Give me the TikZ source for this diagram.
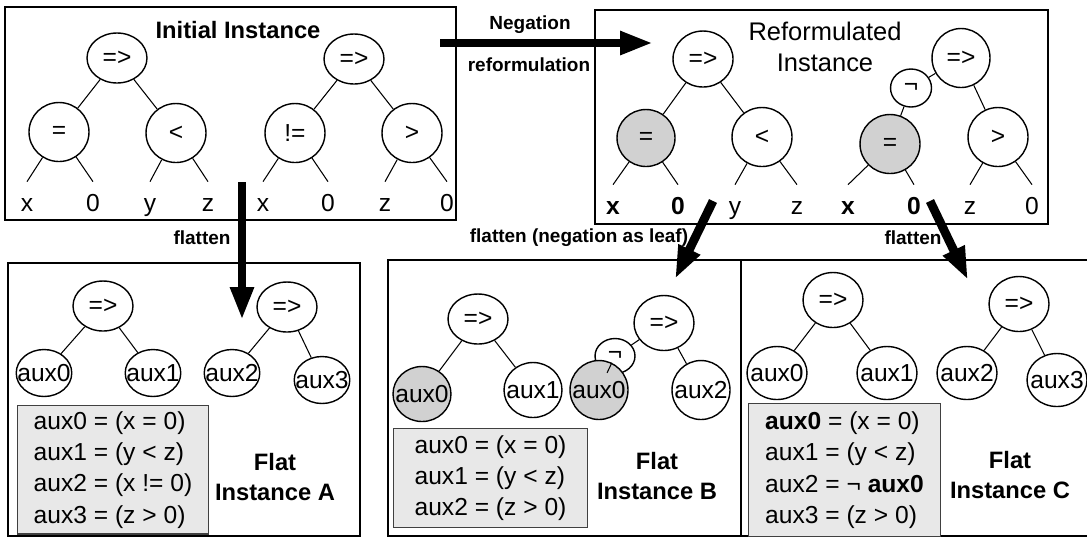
\documentclass[tikz,border=0pt]{standalone}
\usepackage{fontspec}
\setmainfont{Liberation Sans}
\usetikzlibrary{shapes.geometric,arrows.meta}
\definecolor{shade}{gray}{0.82}
\definecolor{defsfill}{gray}{0.91}
\definecolor{defsline}{gray}{0.25}
\begin{document}
\begin{tikzpicture}[x=0.02cm, y=-0.02cm,
    every node/.style={font=\fontsize{14}{17.5}\selectfont},
    op/.style={shape=ellipse, draw, line width=0.8pt, inner ysep=0pt, inner xsep=-4pt,
               minimum width=1.2cm, minimum height=1.18cm},
    root/.style={op, minimum height=1.0cm},
    aux/.style={op, minimum width=1.16cm, minimum height=1.02cm},
    notn/.style={op, minimum width=0.82cm, minimum height=0.76cm},
    hi/.style={fill=shade},
    leaf/.style={inner sep=0pt, text height=10pt, text depth=0pt, minimum height=0.84cm},
    link/.style={line width=0.6pt},
    frame/.style={draw, line width=1.6pt},
    defs/.style={draw=defsline, line width=0.6pt, fill=defsfill, align=left,
                 anchor=north west, font=\fontsize{14}{17.8}\selectfont},
    title/.style={font=\bfseries\fontsize{13.5}{17.2}\selectfont, align=center},
    note/.style={font=\bfseries\fontsize{10.8}{13}\selectfont},
    bigarrow/.style={line width=5pt, -{Triangle[length=6.6mm,width=4.4mm]}}]
  \useasboundingbox (0,0) rectangle (1087,539);

  % frames
  \draw[frame] (5,7) rectangle (456,220);
  \draw[frame] (595,10) rectangle (1048,224);
  \draw[frame] (8,263) rectangle (360,536);
  \draw[frame] (388,260) rectangle (741,536);
  \draw[frame] (741,260) rectangle (1092,536);

  % initial instance
  \node[title] (init) at (238,30) {Initial Instance};
  \node[root] (i1) at (117,58) {=>};
  \node[op] (i1a) at (59,132) {=};
  \node[op] (i1b) at (176,133) {<};
  \node[root] (i2) at (354,59) {=>};
  \node[op] (i2a) at (295,133) {!=};
  \node[op] (i2b) at (412,133) {>};
  \node[leaf] (ia) at (27,203) {x};
  \node[leaf] (ib) at (93,203) {0};
  \node[leaf] (ic) at (150,203) {y};
  \node[leaf] (id) at (208,203) {z};
  \node[leaf] (ie) at (263,203) {x};
  \node[leaf] (if) at (328,203) {0};
  \node[leaf] (ig) at (385,203) {z};
  \node[leaf] (ih) at (447,203) {0};
  \draw[link] (i1a) -- (i1) -- (i1b);
  \draw[link] (i2a) -- (i2) -- (i2b);
  \draw[link] (ia.north) -- (i1a) -- (ib.north);
  \draw[link] (ic.north) -- (i1b) -- (id.north);
  \draw[link] (ie.north) -- (i2a) -- (if.north);
  \draw[link] (ig.north) -- (i2b) -- (ih.north);

  % reformulated instance
  \node[font=\fontsize{14.5}{17.6}\selectfont, align=center] (reform) at (825,47) {Reformulated\\Instance};
  \node[op, minimum height=1.12cm] (r1) at (703,59) {=>};
  \node[op, hi, minimum width=1.16cm, minimum height=1.14cm] (r1a) at (646,138) {=};
  \node[op] (r1b) at (762,137) {<};
  \node[op, minimum width=1.16cm] (r2) at (961,58) {=>};
  \node[notn] (rn) at (911,88) {¬};
  \node[op, hi] (r2a) at (890,144) {=};
  \node[op] (r2b) at (998,137) {>};
  \node[leaf] (ra) at (613,206) {\textbf{x}};
  \node[leaf] (rb) at (678,206) {\textbf{0}};
  \node[leaf] (rc) at (735,206) {y};
  \node[leaf] (rd) at (797,206) {z};
  \node[leaf] (re) at (848,206) {\textbf{x}};
  \node[leaf] (rf) at (914,206) {\textbf{0}};
  \node[leaf] (rg) at (970,206) {z};
  \node[leaf] (rh) at (1032,206) {0};
  \draw[link] (r1a) -- (r1) -- (r1b);
  \draw[link] (r2a) -- (rn) -- (r2) -- (r2b);
  \draw[link] (ra.north) -- (r1a) -- (rb.north);
  \draw[link] (rc.north) -- (r1b) -- (rd.north);
  \draw[link] (re.north) -- (r2a) -- (rf.north);
  \draw[link] (rg.north) -- (r2b) -- (rh.north);

  % flat instance A
  \node[root] (a1) at (103,306) {=>};
  \node[aux, minimum width=1.1cm, minimum height=0.94cm] (a1a) at (44,373) {aux0};
  \node[aux, minimum width=1.1cm, minimum height=0.94cm] (a1b) at (153,373) {aux1};
  \node[root] (a2) at (287,307) {=>};
  \node[aux, minimum width=1.1cm, minimum height=0.94cm] (a2a) at (232,373) {aux2};
  \node[aux, minimum width=1.1cm, minimum height=0.94cm] (a2b) at (322,380) {aux3};
  \draw[link] (a1a) -- (a1) -- (a1b);
  \draw[link] (a2a) -- (a2) -- (a2b);
  \node[defs, minimum width=3.82cm, minimum height=2.54cm] (defA) at (17,405)
    {aux0 = (x = 0)\\aux1 = (y < z)\\aux2 = (x != 0)\\aux3 = (z > 0)};
  \node[title] (flatA) at (275,477) {Flat\\Instance A};

  % flat instance B
  \node[root] (b1) at (478,319) {=>};
  \node[aux, hi, minimum height=1.1cm] (b1a) at (422,394) {aux0};
  \node[aux, minimum height=1.1cm] (b1b) at (533,390) {aux1};
  \node[root, minimum height=1.1cm] (b2) at (664,323) {=>};
  \node[notn, minimum width=0.8cm, minimum height=0.7cm] (bn) at (615,356) {¬};
  \node[aux, hi, minimum height=1.18cm] (b2a) at (599,390) {aux0};
  \node[aux, minimum height=1.18cm] (b2b) at (701,390) {aux2};
  \draw[link] (b1a) -- (b1) -- (b1b);
  \draw[link] (b2a) -- (bn) -- (b2) -- (b2b);
  \node[defs, minimum width=3.88cm, minimum height=1.98cm] (defB) at (393,428)
    {aux0 = (x = 0)\\aux1 = (y < z)\\aux2 = (z > 0)};
  \node[title] (flatB) at (657,476) {Flat\\Instance B};

  % flat instance C
  \node[root, minimum height=1.1cm] (c1) at (833,300) {=>};
  \node[aux, minimum width=1.2cm, minimum height=1.06cm] (c1a) at (777,373) {aux0};
  \node[aux, minimum width=1.2cm, minimum height=1.06cm] (c1b) at (887,373) {aux1};
  \node[root, minimum height=1.1cm] (c2) at (1019,304) {=>};
  \node[aux, minimum width=1.2cm, minimum height=1.06cm] (c2a) at (967,373) {aux2};
  \node[aux, minimum width=1.2cm, minimum height=1.06cm] (c2b) at (1057,380) {aux3};
  \draw[link] (c1a) -- (c1) -- (c1b);
  \draw[link] (c2a) -- (c2) -- (c2b);
  \node[defs, minimum width=3.84cm, minimum height=2.66cm] (defC) at (748,403)
    {\textbf{aux0} = (x = 0)\\aux1 = (y < z)\\aux2 = ¬ \textbf{aux0}\\aux3 = (z > 0)};
  \node[title] (flatC) at (1010,475) {Flat\\Instance C};

  % transformations
  \node[note] (negT) at (530,25) {Negation};
  \node[note] (negB) at (529,65) {reformulation};
  \node[note] (flA) at (202,238) {flatten};
  \node[note] (flB) at (579,238) {flatten (negation as leaf)};
  \node[note] (flC) at (913,238) {flatten};
  \coordinate (negS) at (440,43);
  \coordinate (negE) at (653,43);
  \coordinate (flAS) at (242,182);
  \coordinate (flAE) at (242,320);
  \coordinate (flBS) at (713,201);
  \coordinate (flBE) at (675,279);
  \coordinate (flCS) at (930,201);
  \coordinate (flCE) at (968,280);
  \draw[bigarrow] (negS) -- (negE);
  \draw[bigarrow] (flAS) -- (flAE);
  \draw[bigarrow] (flBS) -- (flBE);
  \draw[bigarrow] (flCS) -- (flCE);
\end{tikzpicture}
\end{document}
